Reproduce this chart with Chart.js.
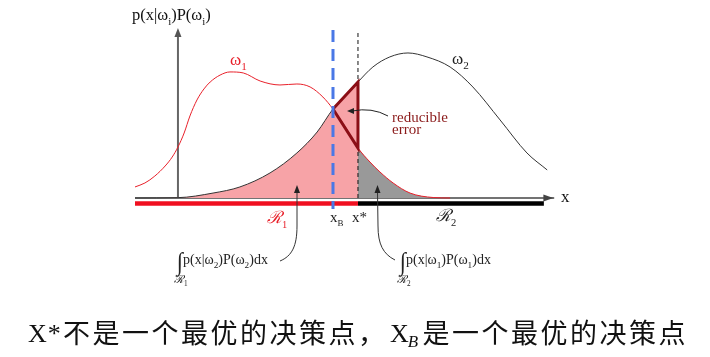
<!DOCTYPE html>
<html><head><meta charset="utf-8">
<script src="https://cdn.jsdelivr.net/npm/chart.js@4.4.1/dist/chart.umd.min.js"></script>
<style>html,body{margin:0;padding:0;background:#fff;}canvas{display:block}</style>
</head><body>
<canvas id="c" width="710" height="357"></canvas>
<script>
// ---- data (x: 0..100 along the axis, y: density height) ----
const omega1X = [0, 2.4, 4.8, 7.3, 9.0, 10.4, 11.9, 13.3, 15.0, 16.7, 18.2, 20.6, 23.0, 26.2, 30.3, 35.1, 39.2, 42.4, 45.5, 47.94, 51.1, 53.99, 56.9, 59.3, 62.5, 66.6, 72.2, 76.3];
const omega1Y = [6.7, 9.1, 13.3, 19.4, 24.8, 30.9, 39.4, 49.7, 59.4, 66.1, 70.3, 74.5, 76.4, 75.8, 70.9, 68.5, 69.1, 67.3, 61.2, 53.94, 42.4, 30.3, 21.8, 15.8, 9.1, 3.0, 0.3, 0];
const omega2X = [0, 10.4, 18.9, 25.4, 32.7, 39.2, 44.1, 47.94, 53.99, 57.6, 61.7, 66.1, 70.7, 76.3, 81.8, 88.4, 94.9, 99.8];
const omega2Y = [0, 0.2, 3.0, 6.7, 15.2, 27.3, 40.0, 53.94, 70.3, 79.4, 85.5, 87.9, 85.5, 79.4, 67.3, 47.3, 27.3, 17.0];
const xB = 47.94;          // Bayes decision point
const xStar = 53.99;       // non-optimal decision point x*
const xAxisEnd = 99;       // end of region R2 bar
const yAxisAt = 10.4;      // position of the vertical axis
const regionNames = ['ℛ', 'ℛ'];
const regionSubs = ['1', '2'];
const caption = ['X', '*', '不是一个最优的决策点，', 'X', 'B', '是一个最优的决策点'];

const pts = (xs, ys) => xs.map((x, i) => ({x, y: ys[i]}));
const w1 = pts(omega1X, omega1Y), w2 = pts(omega2X, omega2Y);
const at = (arr, x) => arr.find(p => p.x === x).y;
const pinkArea = w2.filter(p => p.x <= xStar);
const grayArea = w1.filter(p => p.x >= xStar);
const triangle = [{x: xB, y: at(w1, xB)}, {x: xStar, y: at(w2, xStar)}, {x: xStar, y: at(w1, xStar)}, {x: xB, y: at(w1, xB)}];

const SERIF = "'Liberation Serif','DejaVu Serif',serif";
const BAR_Y = -3.35;

function rich(ctx, x, y, parts, size, color) {
  let cx = x;
  for (const p of parts) {
    const sz = p.sub ? size * (p.ss || 0.66) : size;
    ctx.font = (p.it ? 'italic ' : '') + sz + 'px ' + (p.fam || SERIF);
    ctx.fillStyle = p.c || color;
    ctx.fillText(p.t, cx, y + (p.sub ? size * 0.3 : 0));
    cx += ctx.measureText(p.t).width + (p.gap || 0);
  }
  return cx;
}
function arrowHead(ctx, tx, ty, ang, len, hw) {
  ctx.beginPath();
  ctx.moveTo(tx, ty);
  ctx.lineTo(tx - len * Math.cos(ang) + hw * Math.sin(ang), ty - len * Math.sin(ang) - hw * Math.cos(ang));
  ctx.lineTo(tx - len * Math.cos(ang) - hw * Math.sin(ang), ty - len * Math.sin(ang) + hw * Math.cos(ang));
  ctx.closePath();
  ctx.fill();
}

const decor = {
  id: 'decor',
  beforeDatasetsDraw(chart) {
    const {ctx} = chart, X = chart.scales.x, Y = chart.scales.y;
    const y0 = Y.getPixelForValue(0);
    ctx.save();
    ctx.strokeStyle = '#444'; ctx.fillStyle = '#444'; ctx.lineWidth = 1.5;
    ctx.beginPath(); ctx.moveTo(X.getPixelForValue(0), y0); ctx.lineTo(X.getPixelForValue(101.5), y0); ctx.stroke();
    arrowHead(ctx, X.getPixelForValue(101.3), y0, 0, 10, 3.5);
    const ya = X.getPixelForValue(yAxisAt);
    ctx.strokeStyle = '#666'; ctx.fillStyle = '#555'; ctx.lineWidth = 2;
    ctx.beginPath(); ctx.moveTo(ya, y0); ctx.lineTo(ya, Y.getPixelForValue(100)); ctx.stroke();
    arrowHead(ctx, ya, Y.getPixelForValue(103), -Math.PI / 2, 9, 3.5);
    ctx.restore();
  },
  afterDraw(chart) {
    const {ctx} = chart, X = chart.scales.x, Y = chart.scales.y;
    const px = v => X.getPixelForValue(v);
    ctx.save();
    ctx.textBaseline = 'alphabetic';
    rich(ctx, 132, 20, [{t: 'p(x|ω'}, {t: 'i', sub: 1}, {t: ')P(ω'}, {t: 'i', sub: 1}, {t: ')'}], 16.5, '#111');
    rich(ctx, 230, 65, [{t: 'ω'}, {t: '1', sub: 1}], 17, '#e8202a');
    rich(ctx, 452, 64, [{t: 'ω'}, {t: '2', sub: 1}], 17, '#222');
    ctx.font = '15px ' + SERIF; ctx.fillStyle = '#8b1a1a';
    ctx.fillText('reducible', 392, 121.5);
    ctx.fillText('error', 392, 134);
    ctx.strokeStyle = '#222'; ctx.fillStyle = '#222'; ctx.lineWidth = 1;
    ctx.beginPath(); ctx.moveTo(388, 116); ctx.quadraticCurveTo(372, 107, 352, 111); ctx.stroke();
    arrowHead(ctx, px(xB) + 14, 111, Math.PI, 7, 3);
    ctx.font = '17px ' + SERIF; ctx.fillStyle = '#111';
    ctx.fillText('x', 561, 202);
    rich(ctx, 267, 223, [{t: regionNames[0], it: 1, fam: "'DejaVu Serif',serif"}, {t: regionSubs[0], sub: 1, ss: 0.62}], 17, '#e8202a');
    rich(ctx, 436, 221, [{t: regionNames[1], it: 1, fam: "'DejaVu Serif',serif"}, {t: regionSubs[1], sub: 1, ss: 0.62}], 17, '#222');
    rich(ctx, px(xB) - 3, 221.5, [{t: 'x'}, {t: 'B', sub: 1, ss: 0.6}], 15, '#222');
    rich(ctx, px(xStar) - 6, 221.5, [{t: 'x'}, {t: '*'}], 15, '#222');
    const integral = (x, y, k, rk) => {
      ctx.font = '22px ' + SERIF; ctx.fillStyle = '#222';
      ctx.save(); ctx.translate(x, y + 6); ctx.scale(1, 1.15); ctx.fillText('∫', 0, 0); ctx.restore();
      rich(ctx, x + 6, y, [{t: 'p(x|ω'}, {t: k, sub: 1}, {t: ')P(ω'}, {t: k, sub: 1}, {t: ')dx'}], 14, '#222');
      rich(ctx, x - 3, y + 19, [{t: 'ℛ', it: 1, fam: "'DejaVu Serif',serif"}, {t: rk, sub: 1}], 11, '#222');
    };
    integral(177, 264, '2', '1');
    integral(400, 264, '1', '2');
    ctx.strokeStyle = '#333'; ctx.fillStyle = '#222'; ctx.lineWidth = 1;
    ctx.beginPath(); ctx.moveTo(280, 261); ctx.bezierCurveTo(292, 256, 297, 246, 297, 226); ctx.lineTo(297, 192); ctx.stroke();
    arrowHead(ctx, 297, 185, -Math.PI / 2, 8, 3);
    ctx.beginPath(); ctx.moveTo(395, 260); ctx.bezierCurveTo(383, 254, 378, 244, 378, 226); ctx.lineTo(377.5, 192); ctx.stroke();
    arrowHead(ctx, 377.5, 185, -Math.PI / 2, 8, 3);
    let cx = 28; const base = 342;
    ctx.fillStyle = '#111';
    const drawCJK = (s) => { ctx.font = "27px 'Noto Sans CJK SC'"; for (const ch of s) { ctx.fillText(ch, cx, base + 1); cx += 29.5; } };
    ctx.font = '26px ' + SERIF; ctx.fillText(caption[0], cx, base); cx += ctx.measureText(caption[0]).width + 1;
    ctx.fillText(caption[1], cx, base); cx = 63;
    drawCJK(caption[2]);
    cx = 390;
    ctx.font = '26px ' + SERIF; ctx.fillText(caption[3], cx, base); cx += ctx.measureText(caption[3]).width;
    ctx.font = 'italic 17px ' + SERIF; ctx.fillText(caption[4], cx - 1, base + 5); cx = 422.5;
    drawCJK(caption[5]);
    ctx.restore();
  }
};

new Chart(document.getElementById('c'), {
  type: 'scatter',
  data: {
    datasets: [
      {data: pinkArea, showLine: true, borderWidth: 0, borderColor: 'rgba(0,0,0,0)', backgroundColor: '#f7a3a7', fill: 'origin', cubicInterpolationMode: 'monotone', order: 10},
      {data: grayArea, showLine: true, borderWidth: 0, borderColor: 'rgba(0,0,0,0)', backgroundColor: '#999999', fill: 'origin', cubicInterpolationMode: 'monotone', order: 9},
      {data: [{x: xStar, y: 100}, {x: xStar, y: 0}], showLine: true, borderColor: '#111', borderWidth: 1, borderDash: [4, 3], order: 8},
      {data: w2, showLine: true, borderColor: '#333', borderWidth: 1, cubicInterpolationMode: 'monotone', order: 7},
      {data: w1, showLine: true, borderColor: '#e8202a', borderWidth: 1, cubicInterpolationMode: 'monotone', order: 6},
      {data: triangle, showLine: true, borderColor: '#8b0f16', borderWidth: 3, borderJoinStyle: 'miter', tension: 0, order: 5},
      {data: [{x: 0, y: BAR_Y}, {x: xStar, y: BAR_Y}], showLine: true, borderColor: '#f01020', borderWidth: 4.5, borderCapStyle: 'butt', order: 4},
      {data: [{x: xStar, y: BAR_Y}, {x: xAxisEnd, y: BAR_Y}], showLine: true, borderColor: '#000', borderWidth: 4.5, borderCapStyle: 'butt', order: 4},
      {data: [{x: xB, y: 101.8}, {x: xB, y: -6.7}], showLine: true, borderColor: '#4a78e6', borderWidth: 3, borderDash: [12, 7], order: 1}
    ]
  },
  options: {
    responsive: false, animation: false, devicePixelRatio: 1,
    layout: {padding: {left: 135, right: 162, top: 23.1, bottom: 139.2}},
    scales: {x: {type: 'linear', min: 0, max: 100, display: false}, y: {type: 'linear', min: -12, max: 106, display: false}},
    plugins: {legend: {display: false}, tooltip: {enabled: false}},
    elements: {point: {radius: 0, hoverRadius: 0}},
    clip: false
  },
  plugins: [decor]
});
</script>
</body></html>
